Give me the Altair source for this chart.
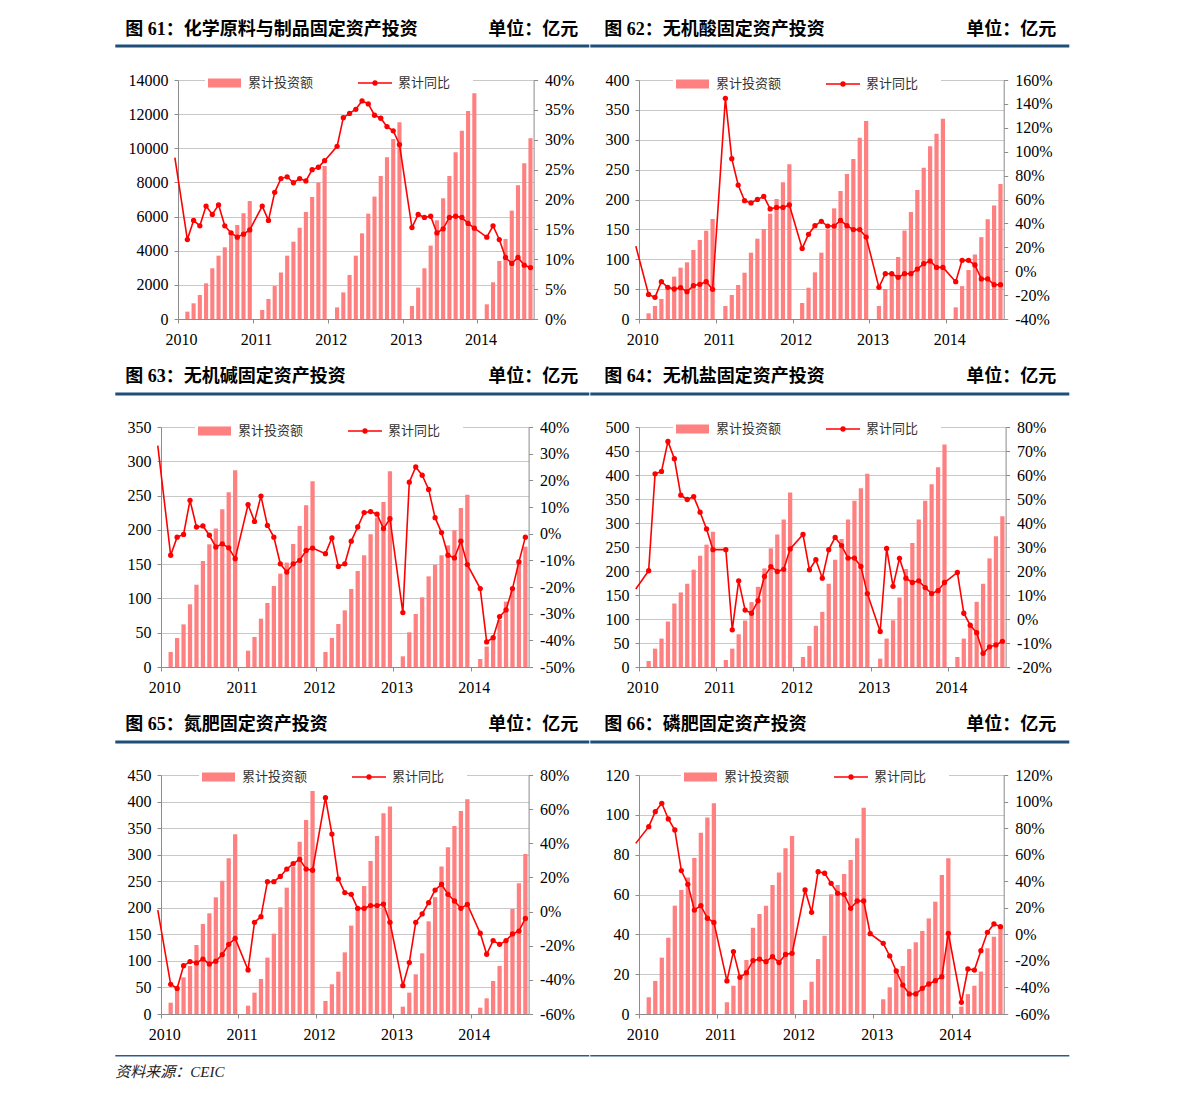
import json
import altair as alt
import pandas as pd

# ---------------- data ----------------
YEAR_LABELS = ["2010", "2011", "2012", "2013", "2014"]
YEAR_BOUNDS = [-0.5, 11.5, 23.5, 35.5, 47.5]
LEGEND_BAR = "累计投资额"
LEGEND_LINE = "累计同比"
UNIT = "单位：亿元"
SOURCE = "资料来源：CEIC"

TITLE_61 = "图 61：化学原料与制品固定资产投资"
INV_61 = [None, 430, 920, 1410, 2090, 2970, 3710, 4200, 4900, 5510, 6190, 6910,
          None, 530, 1170, 1930, 2730, 3710, 4530, 5350, 6270, 7150, 7990, 8960,
          None, 680, 1560, 2580, 3710, 5020, 6170, 7170, 8380, 9470, 10550, 11520,
          None, 760, 1840, 2970, 4300, 5780, 7070, 8380, 9770, 11020, 12190, 13220,
          None, 860, 2150, 3400, 4690, 6350, 7830, 9120, 10590]
YOY_61 = [None, 13.3, 16.5, 15.6, 18.9, 17.5, 19.1, 15.6, 14.4, 13.7, 14.2, 14.9,
          None, 18.9, 16.5, 21.2, 23.5, 23.8, 22.8, 23.5, 23.1, 25.0, 25.4, 26.5,
          None, 28.9, 33.7, 34.4, 35.1, 36.5, 36.0, 34.1, 33.6, 32.2, 31.5, 29.2,
          None, 15.3, 17.5, 17.0, 17.2, 14.4, 15.1, 17.0, 17.2, 17.0, 16.0, 15.2,
          None, 13.7, 15.6, 13.3, 10.3, 9.3, 10.3, 9.0, 8.6]
PREV_61 = 27.0
TICKS_L_61 = [0, 2000, 4000, 6000, 8000, 10000, 12000, 14000]
TICKS_R_61 = [0, 5, 10, 15, 20, 25, 30, 35, 40]

TITLE_62 = "图 62：无机酸固定资产投资"
INV_62 = [None, 9.5, 21.8, 33.5, 50.2, 70.9, 85.9, 94.8, 115.5, 132.2, 147.8, 167.4,
          None, 21.8, 40.2, 56.9, 77.5, 111, 134.4, 150.6, 176.3, 200.8, 228.7, 258.9,
          None, 26.8, 52.4, 78.1, 111, 150, 185.2, 214.2, 242.7, 267.8, 303.5, 331.4,
          None, 21.8, 50.2, 76, 103.8, 148, 179, 216, 253, 289, 310, 335,
          None, 19.5, 55, 82, 108, 137, 167, 190, 226]
YOY_62 = [None, -19.4, -21.9, -8.8, -13.5, -14.9, -13.8, -17.1, -12.1, -11.0, -8.8, -15.2,
          None, 144.7, 94.2, 72.1, 59.0, 57.1, 60.1, 62.6, 52.1, 53.4, 53.4, 55.4,
          None, 19.1, 30.9, 38.1, 41.7, 37.8, 37.8, 42.6, 38.1, 34.8, 34.8, 28.6,
          None, -13.5, -2.1, -2.1, -5.1, -2.1, -2.1, 1.8, 6.3, 8.5, 3.2, 3.2,
          None, -8.8, 9.1, 9.1, 5.2, -6.5, -6.5, -11.3, -11.3]
PREV_62 = 21.0
TICKS_L_62 = [0, 50, 100, 150, 200, 250, 300, 350, 400]
TICKS_R_62 = [-40, -20, 0, 20, 40, 60, 80, 100, 120, 140, 160]

TITLE_63 = "图 63：无机碱固定资产投资"
INV_63 = [None, 21.9, 42.3, 62.2, 91.4, 120, 154.6, 178.9, 201.8, 230, 255, 286.8,
          None, 23.8, 43.8, 70.5, 93.3, 118.1, 136.1, 152.2, 179.4, 205.6, 235.8, 270.8,
          None, 21.9, 42.3, 62.7, 82.6, 113.8, 140, 162.9, 193.5, 218, 240.6, 285.4,
          None, 15.6, 50.6, 77.3, 101.6, 132.2, 148.8, 162.9, 177.4, 199.3, 231.9, 251.3,
          None, 11.7, 29.7, 44.2, 68.5, 95.3, 113, 153.6, 175.5]
YOY_63 = [None, -8.1, -1.3, -0.3, 12.5, 2.5, 2.9, -0.6, -5.0, -3.8, -5.3, -9.4,
          None, 10.9, 4.6, 14.1, 3.1, -1.3, -11.3, -14.4, -11.3, -10.0, -6.3, -5.4,
          None, -7.5, -1.6, -12.3, -11.3, -2.8, 2.5, 7.9, 8.3, 7.3, 1.9, 5.6,
          None, -29.6, 19.3, 25.0, 21.9, 16.6, 6.0, 0.4, -8.1, -9.1, -2.8, -11.6,
          None, -20.6, -40.6, -39.0, -31.1, -28.6, -20.6, -10.6, -1.3]
PREV_63 = 33.0
TICKS_L_63 = [0, 50, 100, 150, 200, 250, 300, 350]
TICKS_R_63 = [-50, -40, -30, -20, -10, 0, 10, 20, 30, 40]

TITLE_64 = "图 64：无机盐固定资产投资"
INV_64 = [None, 12.5, 38.3, 59.2, 94.7, 132.3, 155.3, 173.4, 202.6, 231.9, 254.9, 282,
          None, 14.6, 38.3, 68.2, 96.8, 135.1, 167.1, 205.4, 247.2, 275.8, 307.1, 363.5,
          None, 20.9, 43.9, 85.7, 114.9, 173.4, 223.5, 266.7, 307.1, 346.1, 372.6, 402.5,
          None, 17.4, 59.2, 97.5, 144.8, 204, 258.4, 307.1, 346.1, 380.9, 416.4, 463.8,
          None, 20.9, 59.2, 89, 135.8, 173.4, 226.3, 272.3, 314]
YOY_64 = [None, 20.1, 60.5, 61.5, 74.0, 66.8, 51.6, 49.8, 51.0, 44.5, 37.5, 28.9,
          None, 28.9, -4.5, 15.9, 3.7, 2.4, 7.6, 17.7, 21.8, 19.8, 20.7, 29.2,
          None, 35.2, 20.5, 24.7, 17.0, 28.9, 34.0, 30.6, 25.4, 25.4, 21.9, 10.6,
          None, -5.2, 29.4, 13.6, 25.3, 17.0, 15.2, 15.9, 13.1, 10.6, 11.8, 15.2,
          None, 19.4, 2.4, -2.6, -5.7, -14.3, -11.6, -10.8, -9.3]
PREV_64 = 12.5
TICKS_L_64 = [0, 50, 100, 150, 200, 250, 300, 350, 400, 450, 500]
TICKS_R_64 = [-20, -10, 0, 10, 20, 30, 40, 50, 60, 70, 80]

TITLE_65 = "图 65：氮肥固定资产投资"
INV_65 = [None, 21.3, 45, 69, 90.4, 130, 169.5, 189.6, 219.7, 251.1, 293.2, 338.4,
          None, 15.7, 40.2, 65.9, 106.1, 151.3, 200.9, 237.9, 277.5, 324.5, 365.4, 420,
          None, 24.5, 55.9, 79.7, 116.1, 166.4, 200, 241, 288.1, 335.2, 377.9, 390.5,
          None, 13.8, 40.2, 74.7, 114.3, 174.5, 220, 277.5, 313.9, 354, 382.3, 404.3,
          None, 11.9, 29.5, 62.1, 90.4, 136, 197.7, 246.1, 301.3]
YOY_65 = [None, -42.6, -45.0, -31.7, -29.3, -30.1, -27.8, -30.7, -29.1, -25.2, -19.2, -15.7,
          None, -34.2, -6.3, -3.0, 17.5, 17.5, 20.6, 24.9, 28.1, 30.6, 24.9, 24.2,
          None, 66.7, 45.4, 19.1, 11.1, 10.1, 1.9, 1.9, 3.5, 3.5, 4.4, -6.3,
          None, -43.4, -29.9, -6.3, -1.4, 5.2, 12.6, 16.0, 10.1, 6.2, 1.9, 4.2,
          None, -12.7, -25.0, -17.0, -19.2, -17.0, -13.1, -11.4, -4.0]
PREV_65 = 0.9
TICKS_L_65 = [0, 50, 100, 150, 200, 250, 300, 350, 400, 450]
TICKS_R_65 = [-60, -40, -20, 0, 20, 40, 60, 80]

TITLE_66 = "图 66：磷肥固定资产投资"
INV_66 = [None, 8.4, 16.6, 28.3, 38.3, 54.4, 62.3, 68.5, 78.3, 91, 98.6, 105.8,
          None, 5.9, 14.2, 20, 27.1, 43.3, 50.2, 54.4, 64.8, 71.1, 83.2, 89.4,
          None, 7.0, 16.2, 27.6, 39.3, 60.1, 64.8, 70.3, 77.3, 88.2, 103.6, None,
          None, 7.4, 13.4, 21.3, 24.1, 32.6, 36, 41.7, 48, 56.4, 69.8, 78.2,
          None, 3.7, 10, 14.2, 21.3, 33, 38.8, 44.7]
YOY_66 = [None, 81.1, 92.4, 98.7, 86.9, 78.6, 48.0, 37.7, 18.3, 21.6, 12.1, 9.0,
          None, -35.1, -13.0, -32.4, -28.9, -19.8, -18.6, -20.6, -16.8, -21.3, -15.1, -14.3,
          None, 33.4, 16.6, 47.2, 46.0, 38.4, 30.9, 30.1, 19.6, 25.1, 25.1, 0.5,
          None, -6.8, -16.3, -27.6, -38.2, -44.9, -44.9, -40.7, -37.4, -34.9, -31.9, 0.8,
          None, -51.2, -26.1, -26.9, -12.3, 1.5, 7.8, 5.8]
PREV_66 = 68.5
TICKS_L_66 = [0, 20, 40, 60, 80, 100, 120]
TICKS_R_66 = [-60, -40, -20, 0, 20, 40, 60, 80, 100, 120]

# ---------------- style ----------------
BAR = "#FF8080"
RED = "#FF0000"
GRID = "#C8C8C8"
AXIS = "#8C8C8C"
NAVY = "#1F4E79"
SERIF = "Liberation Serif"
MIXED = "Liberation Serif, Noto Sans CJK SC"
CJK = "Noto Sans CJK SC"
LABEL_SIZE = 16

ONE = pd.DataFrame({"k": [0]})
PAGE_LEFT = 105      # left edge of the layout block
COL_SPLIT = 589      # where the two columns meet
RIGHT_EDGE = 1068
LEFT_EDGE = 115


def d_text(text, x, y, size, align="left", weight="normal", style="normal",
           font=MIXED, color="#000000"):
    return alt.Chart(ONE).mark_text(
        text=text, align=align, baseline="middle", font=font, fontSize=size,
        fontWeight=weight, fontStyle=style, color=color
    ).encode(x=alt.value(x), y=alt.value(y))


def d_hrule(x1, x2, y, color, width):
    return alt.Chart(ONE).mark_rule(color=color, strokeWidth=width).encode(
        x=alt.value(x1), x2=alt.value(x2), y=alt.value(y))


def d_ghost(x, y1, y2):
    return alt.Chart(ONE).mark_rule(color="#FFFFFF", strokeWidth=1, opacity=0).encode(
        x=alt.value(x), y=alt.value(y1), y2=alt.value(y2))


def d_rect(x1, x2, y1, y2, color):
    return alt.Chart(ONE).mark_rect(color=color).encode(
        x=alt.value(x1), x2=alt.value(x2), y=alt.value(y1), y2=alt.value(y2))


def d_dot(x, y):
    return alt.Chart(ONE).mark_circle(color=RED, size=28, opacity=1).encode(
        x=alt.value(x), y=alt.value(y))


def panel(p):
    inv, yoy = p["inv"], p["yoy"]
    n = len(inv)
    L, W, H = p["left"], p["width"], p["height"]
    slot = W / n

    bars_df = pd.DataFrame({"idx": list(range(n)),
                            "inv": pd.Series(inv, dtype="float")}).dropna()
    line_df = pd.DataFrame({"idx": [-1] + list(range(n)),
                            "yoy": pd.Series([p["prev"]] + yoy, dtype="float")}).dropna()
    pts_df = line_df[line_df["idx"] >= 0]

    xs = alt.Scale(domain=[-0.5, n - 0.5], nice=False, zero=False)
    xaxis = alt.Axis(
        values=YEAR_BOUNDS,
        labelExpr=json.dumps(YEAR_LABELS) + "[floor((datum.value + 0.5) / 12)]",
        labelOffset=slot / 2, labelFlush=False, labelOverlap=False,
        labelFont=SERIF, labelFontSize=LABEL_SIZE, labelColor="#000000", labelPadding=8,
        tickSize=4, tickColor=AXIS, domainColor=AXIS, grid=False)
    lt, rt = p["lticks"], p["rticks"]
    yL = alt.Y("inv:Q", title=None,
               scale=alt.Scale(domain=[lt[0], lt[-1]], nice=False, zero=False),
               axis=alt.Axis(orient="left", values=lt, format="d", grid=True,
                             gridColor=GRID, gridWidth=1, domainColor=AXIS,
                             tickColor=AXIS, tickSize=4, labelPadding=6,
                             labelFont=SERIF, labelFontSize=LABEL_SIZE,
                             labelColor="#000000"))
    yR = alt.Y("yoy:Q", title=None,
               scale=alt.Scale(domain=[rt[0], rt[-1]], nice=False, zero=False),
               axis=alt.Axis(orient="right", values=rt, labelExpr="datum.value + '%'",
                             grid=False, domainColor=AXIS, tickColor=AXIS, tickSize=4,
                             labelPadding=7, labelFont=SERIF, labelFontSize=LABEL_SIZE,
                             labelColor="#000000"))

    bars = alt.Chart(bars_df).transform_calculate(
        x0="datum.idx - 0.33", x1="datum.idx + 0.33", base="0"
    ).mark_bar(color=BAR).encode(
        x=alt.X("x0:Q", scale=xs, axis=xaxis, title=None), x2="x1:Q",
        y=yL, y2="base:Q")
    line = alt.Chart(line_df).mark_line(color=RED, strokeWidth=1.6).encode(
        x=alt.X("idx:Q", scale=xs, axis=xaxis, title=None), y=yR)
    pts = alt.Chart(pts_df).mark_circle(color=RED, size=28, opacity=1).encode(
        x=alt.X("idx:Q", scale=xs, axis=xaxis, title=None), y=yR)

    lx, ly = p["lx"], p["ly"]
    layers = [
        bars,
        d_rect(lx - 3, lx + 265, ly - 10, ly + 9, "#FFFFFF"),
        alt.layer(line, pts),
        d_rect(lx, lx + 33, ly - 4.5, ly + 4.5, BAR),
        d_text(LEGEND_BAR, lx + 40, ly, 13, font=CJK, color="#333333"),
        d_hrule(lx + 150, lx + 184, ly, RED, 1.6),
        d_dot(lx + 167, ly),
        d_text(LEGEND_LINE, lx + 190, ly, 13, font=CJK, color="#333333"),
    ]
    if p["col"] == 0:
        x_from, x_to, tx, ux = LEFT_EDGE, COL_SPLIT, 125, 578
    else:
        x_from, x_to, tx, ux = COL_SPLIT, RIGHT_EDGE, 603, 1055
    layers += [
        d_hrule(x_from - L, x_to - L, p["rule_y"], NAVY, 3),
        d_text(p["title"], tx - L, -50, 18, weight="bold"),
        d_text(UNIT, ux - L, -50, 18, align="right", weight="bold"),
    ]
    if p["col"] == 0:
        layers.append(d_ghost(PAGE_LEFT - L, -62, p["bottom"]))
    if p.get("footer"):
        layers.append(d_hrule(x_from - L, x_to - L, 280.7, "#2E5C8A", 1.5))
        if p["col"] == 0:
            layers.append(d_text(SOURCE, LEFT_EDGE - L, 297, 15, style="italic",
                                 color="#222222"))
    return alt.layer(*layers).resolve_scale(y="independent").properties(width=W, height=H)


def spacer(w):
    return alt.Chart(ONE).mark_rule(opacity=0).encode(
        x=alt.value(0), y=alt.value(0), y2=alt.value(1)).properties(width=w, height=1)


P = [
    dict(title=TITLE_61, inv=INV_61, yoy=YOY_61, prev=PREV_61, lticks=TICKS_L_61,
         rticks=TICKS_R_61, col=0, left=177.7, width=355.6, height=239, lx=30, ly=3,
         rule_y=-34, bottom=285),
    dict(title=TITLE_62, inv=INV_62, yoy=YOY_62, prev=PREV_62, lticks=TICKS_L_62,
         rticks=TICKS_R_62, col=1, left=637.7, width=364.7, height=239, lx=37, ly=4,
         rule_y=-34),
    dict(title=TITLE_63, inv=INV_63, yoy=YOY_63, prev=PREV_63, lticks=TICKS_L_63,
         rticks=TICKS_R_63, col=0, left=160.7, width=367.6, height=240, lx=37, ly=4,
         rule_y=-33, bottom=286),
    dict(title=TITLE_64, inv=INV_64, yoy=YOY_64, prev=PREV_64, lticks=TICKS_L_64,
         rticks=TICKS_R_64, col=1, left=637.7, width=366.6, height=240, lx=37, ly=2,
         rule_y=-33),
    dict(title=TITLE_65, inv=INV_65, yoy=YOY_65, prev=PREV_65, lticks=TICKS_L_65,
         rticks=TICKS_R_65, col=0, left=160.7, width=367.6, height=239, lx=41, ly=2,
         rule_y=-33, bottom=310, footer=True),
    dict(title=TITLE_66, inv=INV_66, yoy=YOY_66, prev=PREV_66, lticks=TICKS_L_66,
         rticks=TICKS_R_66, col=1, left=637.7, width=364.7, height=239, lx=45, ly=2,
         rule_y=-33, footer=True),
]

rows = []
for i in range(0, 6, 2):
    a, b = P[i], P[i + 1]
    rows.append(alt.hconcat(
        spacer(a["left"] - PAGE_LEFT), panel(a),
        spacer(b["left"] - a["left"] - a["width"]), panel(b),
        spacing=0, bounds="flush"))

chart = alt.vconcat(*rows, spacing=0, bounds="full").properties(
    padding={"left": PAGE_LEFT - 8, "top": 10, "right": 5, "bottom": 5}
).configure_view(strokeWidth=0)

chart.save("out.html", embed_options={"renderer": "svg", "actions": False})
